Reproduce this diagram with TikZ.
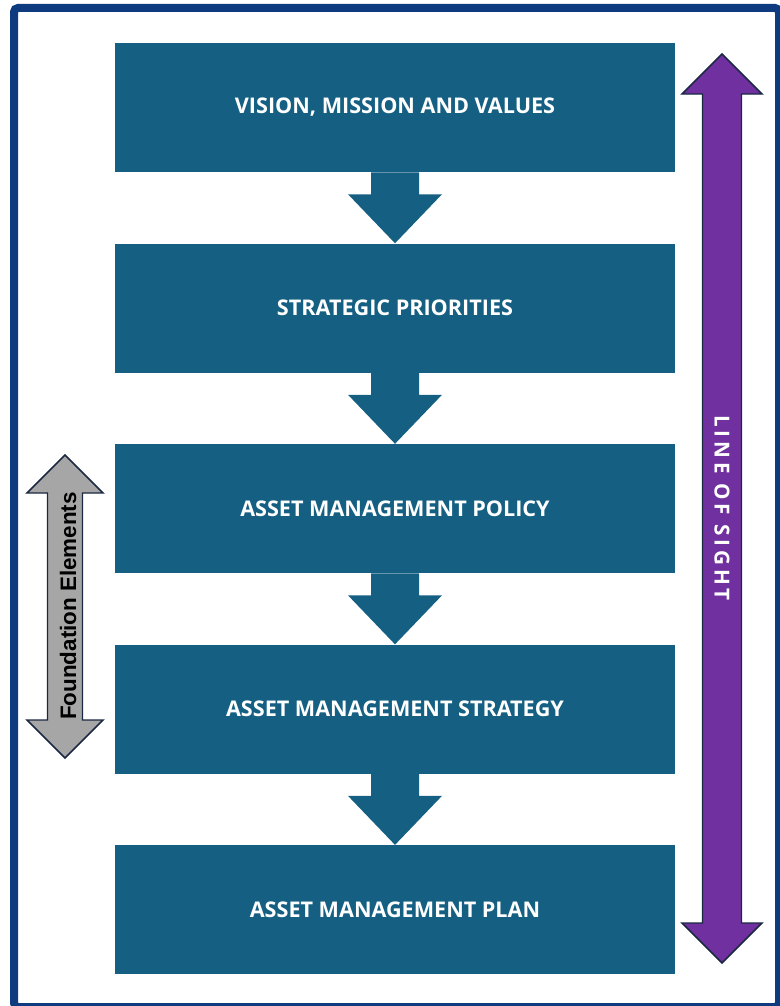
\documentclass[tikz,border=0pt]{standalone}
\usepackage{fontspec}
\setmainfont{Open Sans}
\newfontfamily\arialfont{Liberation Sans}
\newfontfamily\sightfont[LetterSpace=19]{Open Sans}
\usetikzlibrary{calc,positioning}

\definecolor{frameblue}{RGB}{14,58,128}
\definecolor{boxblue}{RGB}{21,96,130}
\definecolor{sightpurple}{RGB}{112,48,160}
\definecolor{foundgray}{RGB}{166,166,166}
\definecolor{edgenavy}{RGB}{27,40,66}

\tikzset{
  levelbox/.style={fill=boxblue, text=white, minimum width=420pt, minimum height=96.75pt,
    inner sep=0pt, font=\fontsize{16.2}{18}\selectfont\bfseries},
  blockarrow/.style={draw=edgenavy, line width=1.1pt, line join=miter}
}

\begin{document}
\begin{tikzpicture}[x=0.75pt, y=-0.75pt, node distance=53.25pt]
            \useasboundingbox (0,0) rectangle (780,1006);
            \draw[frameblue, line width=6pt, rounded corners=3pt] (14,8) rectangle (779,1007);

            \node[levelbox] (b1) at (395,107.5) {VISION, MISSION AND VALUES};
            \node[levelbox, below=of b1] (b2) {STRATEGIC PRIORITIES};
            \node[levelbox, below=of b2] (b3) {ASSET MANAGEMENT POLICY};
            \node[levelbox, below=of b3] (b4) {ASSET MANAGEMENT STRATEGY};
            \node[levelbox, below=of b4] (b5) {ASSET MANAGEMENT PLAN};

            \foreach \a/\b in {b1/b2,b2/b3,b3/b4,b4/b5}
              \fill[boxblue] ($(\a.south)+(-24,0)$) -- ($(\a.south)+(-24,22)$)
                -- ($(\a.south)+(-47,22)$) -- (\b.north) -- ($(\a.south)+(47,22)$)
                -- ($(\a.south)+(24,22)$) -- ($(\a.south)+(24,0)$) -- cycle;

            % line of sight
            \coordinate (st) at (722,54);
            \coordinate (sb) at (722,963);
            \draw[blockarrow, fill=sightpurple] (st) -- ($(st)+(40,40)$) -- ($(st)+(19.5,40)$)
              -- ($(sb)+(19.5,-40)$) -- ($(sb)+(40,-40)$) -- (sb) -- ($(sb)+(-40,-40)$)
              -- ($(sb)+(-19.5,-40)$) -- ($(st)+(-19.5,40)$) -- ($(st)+(-40,40)$) -- cycle;
            \node[rotate=-90, text=white, font=\sightfont\fontsize{15.5}{17}\selectfont\bfseries] (sight) at (722,508) {LINE OF SIGHT};

            % foundation elements
            \coordinate (ft) at (65,455);
            \coordinate (fb) at (65,758);
            \draw[blockarrow, fill=foundgray] (ft) -- ($(ft)+(38,38)$) -- ($(ft)+(17.5,38)$)
              -- ($(fb)+(17.5,-38)$) -- ($(fb)+(38,-38)$) -- (fb) -- ($(fb)+(-38,-38)$)
              -- ($(fb)+(-17.5,-38)$) -- ($(ft)+(-17.5,38)$) -- ($(ft)+(-38,38)$) -- cycle;
            \node[rotate=90, font=\arialfont\fontsize{16.8}{18}\selectfont\bfseries] (found) at (68,606) {Foundation Elements};
          \end{tikzpicture}
\end{document}
